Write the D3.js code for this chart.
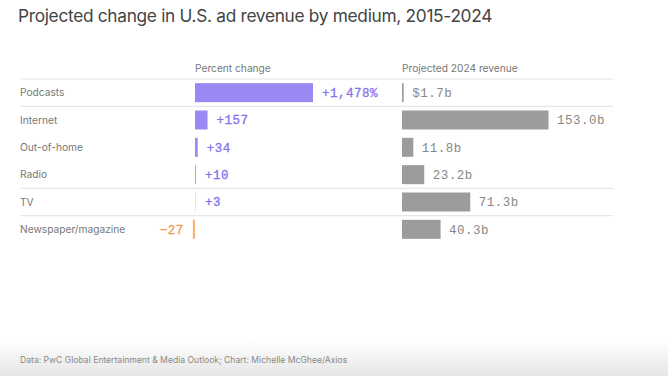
<!DOCTYPE html>
<html>
<head>
<meta charset="utf-8">
<script src="https://cdn.jsdelivr.net/npm/d3@7"></script>
<style>
  body { margin: 0; background: #fff; }
  text { font-family: Inter, "Noto Sans", sans-serif; }
  .mono { font-family: "Liberation Mono", "DejaVu Sans Mono", monospace; }
</style>
</head>
<body>
<svg id="chart"></svg>
<script>
// data
const media = ["Podcasts", "Internet", "Out-of-home", "Radio", "TV", "Newspaper/magazine"];
const pctChange = [1478, 157, 34, 10, 3, -27];
const revenue2024 = [1.7, 153.0, 11.8, 23.2, 71.3, 40.3];
const separatorsAfter = [0, 3, 4]; // rows followed by a rule

const W = 668, H = 376;
const svg = d3.select("#chart").attr("width", W).attr("height", H);

// bottom fade
const grad = svg.append("defs").append("linearGradient")
    .attr("id", "fade").attr("x1", 0).attr("x2", 0).attr("y1", 0).attr("y2", 1);
grad.append("stop").attr("offset", "0%").attr("stop-color", "#fff");
grad.append("stop").attr("offset", "100%").attr("stop-color", "#e6e6e6");
svg.append("rect").attr("x", 0).attr("y", 340).attr("width", W).attr("height", H - 340)
    .attr("fill", "url(#fade)");

// title
svg.append("text")
    .attr("x", 18).attr("y", 22)
    .attr("font-size", "17.3px")
    .attr("fill", "#444")
    .attr("letter-spacing", "-0.3px")
    .text("Projected change in U.S. ad revenue by medium, 2015-2024");

// row scale
const y = d3.scaleBand().domain(media).range([79, 243]);

// percent scale
const x1 = d3.scaleLinear().domain([0, 1478]).range([195, 313]);
// revenue scale
const x2 = d3.scaleLinear().domain([0, 153]).range([402, 548.5]);

// column headers
svg.append("text").attr("x", 195).attr("y", 72)
    .attr("font-size", "10.2px").attr("fill", "#777").text("Percent change");
svg.append("text").attr("x", 402).attr("y", 72)
    .attr("font-size", "10.2px").attr("fill", "#777").text("Projected 2024 revenue");

// rules
const ruleYs = [y.range()[0]].concat(separatorsAfter.map(i => y(media[i]) + y.step()));
svg.selectAll(".rule")
    .data(ruleYs)
    .enter().append("line")
    .attr("x1", 20).attr("x2", 613)
    .attr("y1", d => d).attr("y2", d => d)
    .attr("stroke", "#e6e6e6").attr("stroke-width", 1.2);

const rows = svg.selectAll(".row")
    .data(media.map((m, i) => ({m, p: pctChange[i], r: revenue2024[i], i})))
    .enter().append("g")
    .attr("transform", d => `translate(0,${y(d.m) + y.bandwidth() / 2})`);

// row labels
rows.append("text")
    .attr("x", 20).attr("dy", "0.35em")
    .attr("font-size", "10.2px").attr("fill", "#777")
    .text(d => d.m);

const barH = 19;

// percent bars
rows.append("rect")
    .attr("x", d => Math.min(x1(0), x1(d.p)))
    .attr("y", -barH / 2)
    .attr("width", d => Math.abs(x1(d.p) - x1(0)))
    .attr("height", barH)
    .attr("fill", d => d.p < 0 ? "#f7b27a" : "#9b88f2");

rows.append("text")
    .attr("class", "mono")
    .attr("x", d => d.p < 0 ? x1(d.p) - 9 : Math.max(x1(d.p), x1(0) + 1) + 9)
    .attr("text-anchor", d => d.p < 0 ? "end" : "start")
    .attr("dy", "0.35em")
    .attr("font-size", "12.5px")
    .attr("letter-spacing", "0.5px")
    .attr("stroke", d => d.p < 0 ? "#f39a55" : "#8472ee")
    .attr("stroke-width", 0.3)
    .attr("fill", d => d.p < 0 ? "#f39a55" : "#8472ee")
    .text(d => (d.p > 0 ? "+" : "\u2212") + d3.format(",")(Math.abs(d.p)) + (d.i === 0 ? "%" : ""));

// revenue bars
rows.append("rect")
    .attr("x", x2(0))
    .attr("y", -barH / 2)
    .attr("width", d => x2(d.r) - x2(0))
    .attr("height", barH)
    .attr("fill", "#9c9c9c");

rows.append("text")
    .attr("class", "mono")
    .attr("x", d => x2(d.r) + 8.5)
    .attr("dy", "0.35em")
    .attr("font-size", "12.5px")
    .attr("letter-spacing", "0.5px")
    .attr("fill", "#888")
    .text(d => (d.i === 0 ? "$" : "") + d3.format(".1f")(d.r) + "b");

// footer
svg.append("text")
    .attr("x", 20).attr("y", 363)
    .attr("font-size", "8.6px").attr("fill", "#888")
    .text("Data: PwC Global Entertainment & Media Outlook; Chart: Michelle McGhee/Axios");
</script>
</body>
</html>
